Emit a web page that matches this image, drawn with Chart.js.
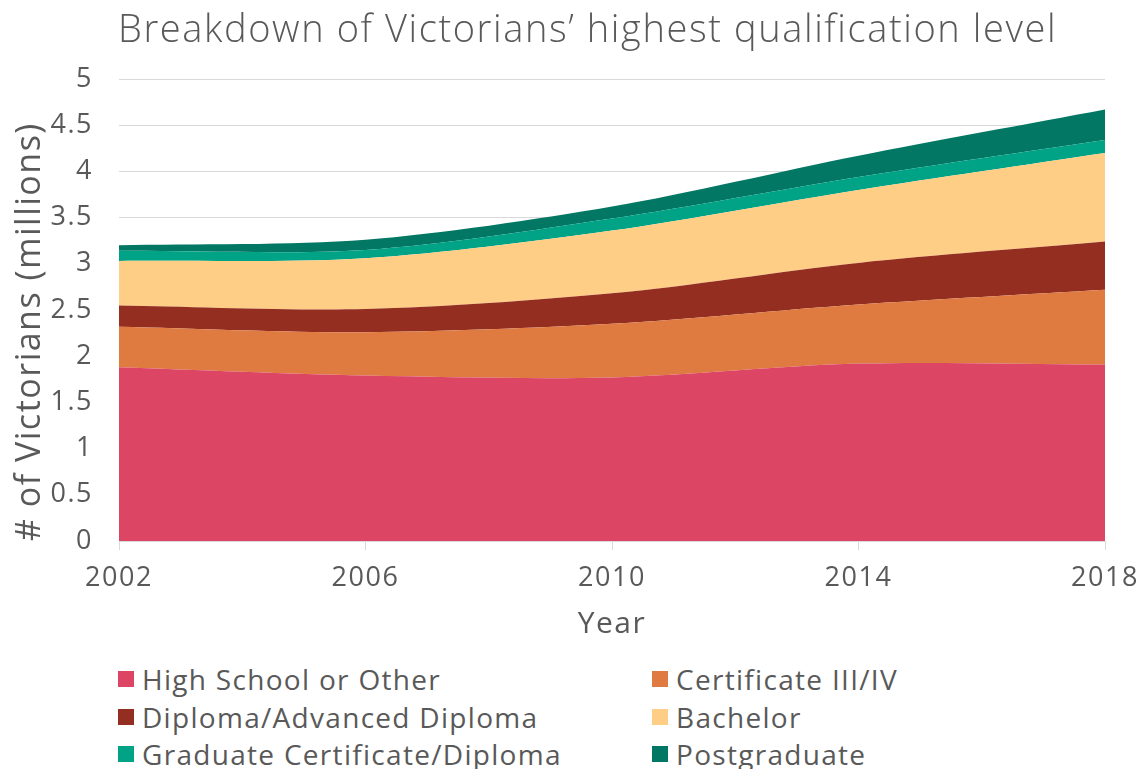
<!DOCTYPE html>
<html><head><meta charset="utf-8">
<script src="https://cdn.jsdelivr.net/npm/chart.js@4.4.1/dist/chart.umd.min.js"></script>
<style>
body{margin:0;background:#fff;width:1146px;height:769px;overflow:hidden;position:relative;font-family:"Open Sans",sans-serif;color:#595959}
#wrap{position:absolute;left:0;top:0;width:1146px;height:650px}
#title{position:absolute;left:118px;top:3px;font-size:38px;font-weight:300;letter-spacing:1.6px;line-height:48px;white-space:nowrap}
.item{position:absolute;display:flex;align-items:center;height:38px;font-size:28px;letter-spacing:1.3px;white-space:nowrap}
.sw{width:16px;height:16px;margin-right:8px}
</style></head>
<body>
<div id="wrap"><canvas id="c" width="1146" height="650"></canvas></div>
<div id="title">Breakdown of Victorians’ highest qualification level</div>
<div id="legend"></div>
<script>
const years = ['2002','2006','2010','2014','2018'];
const seriesNames = ['High School or Other','Certificate III/IV','Diploma/Advanced Diploma','Bachelor','Graduate Certificate/Diploma','Postgraduate'];
const highSchool = [1.88,1.79,1.77,1.92,1.91];
const certificate = [0.44,0.47,0.58,0.64,0.81];
const diploma = [0.23,0.25,0.33,0.45,0.52];
const bachelor = [0.48,0.55,0.68,0.79,0.96];
const gradCert = [0.11,0.09,0.13,0.14,0.14];
const postgrad = [0.06,0.11,0.13,0.23,0.33];
const colors = ['#DC4664','#DF7A41','#942E20','#FECD86','#00A386','#027763'];
const seriesValues = [highSchool,certificate,diploma,bachelor,gradCert,postgrad];

const datasets = seriesValues.map((v,i)=>({
  label: seriesNames[i], data: v, backgroundColor: colors[i], borderColor: colors[i],
  borderWidth: 0, pointRadius: 0, tension: 0.3, fill: i===0 ? 'origin' : '-1'
}));

const spacingPlugin = {
  id:'spacing',
  beforeUpdate(chart){ chart.ctx.letterSpacing = '1.5px'; },
  beforeDraw(chart){ chart.ctx.letterSpacing = '1.5px'; }
};

const tickFont = {family:'"Open Sans", sans-serif', size:27};
new Chart(document.getElementById('c'), {
  type:'line',
  data:{labels:years, datasets},
  plugins:[spacingPlugin],
  options:{
    responsive:false, animation:false, devicePixelRatio:1,
    layout:{padding:{left:0,right:41,top:79,bottom:0}},
    plugins:{legend:{display:false}, tooltip:{enabled:false}, title:{display:false}},
    scales:{
      x:{
        type:'category', offset:false,
        grid:{drawOnChartArea:false, drawTicks:true, tickLength:9, color:'#d9d9d9'},
        border:{display:true,color:'#d9d9d9',width:1},
        ticks:{font:tickFont,color:'#595959',padding:12,maxRotation:0},
        title:{display:true,text:'Year',font:{family:'"Open Sans", sans-serif',size:30},color:'#595959',padding:{top:0,bottom:8}},
        afterFit:(s)=>{s.height=109; s.paddingLeft=0; s.paddingRight=0;}
      },
      y:{
        stacked:true, min:0, max:5,
        ticks:{stepSize:0.5,font:tickFont,color:'#595959',padding:26,
          callback:(v)=>String(Math.round(v*10)/10)},
        grid:{color:'#d9d9d9',drawTicks:false},
        border:{display:false},
        title:{display:true,align:'start',text:'# of Victorians (millions)',font:{family:'"Open Sans", sans-serif',size:34},color:'#595959',padding:{top:10,bottom:0}},
        afterFit:(s)=>{s.width=119;}
      }
    }
  }
});

const legend = document.getElementById('legend');
const rowCenters = [679,717,754];
const colLefts = [118,652];
seriesNames.forEach((name,i)=>{
  const d = document.createElement('div');
  d.className='item';
  d.style.left = colLefts[i%2]+'px';
  d.style.top = (rowCenters[Math.floor(i/2)]-19)+'px';
  const sw = document.createElement('span'); sw.className='sw'; sw.style.background=colors[i];
  const t = document.createElement('span'); t.textContent=name;
  d.appendChild(sw); d.appendChild(t);
  legend.appendChild(d);
});
</script>
</body></html>
